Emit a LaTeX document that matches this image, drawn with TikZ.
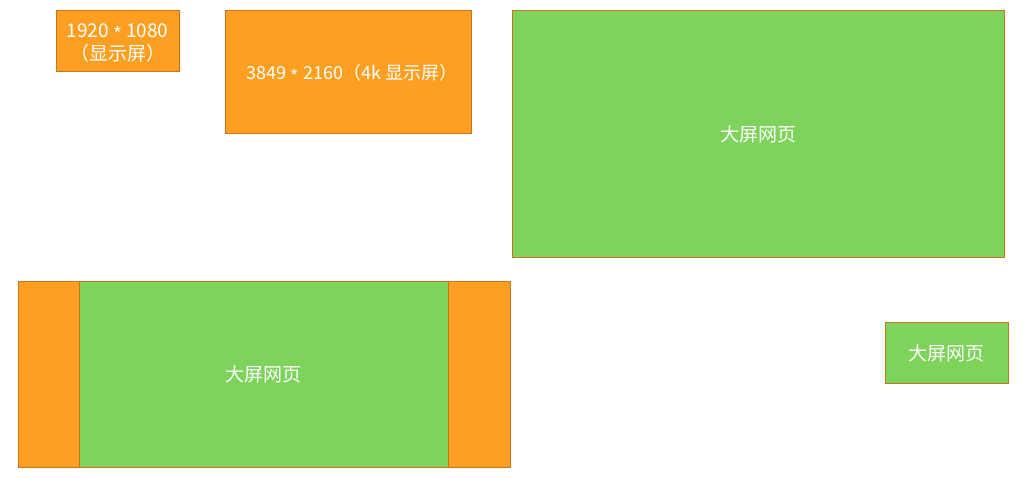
\documentclass[tikz,border=0pt]{standalone}
\usepackage{fontspec}
\setmainfont{Noto Sans CJK SC}
\usetikzlibrary{positioning}
\definecolor{ScreenOrange}{HTML}{FF9F22}
\definecolor{PageGreen}{HTML}{7ED35A}
\definecolor{EdgeBrown}{HTML}{C8741A}
\newcommand{\resby}{\raisebox{-0.35ex}{*}}

\begin{document}
\begin{tikzpicture}[x=1pt, y=-1pt,
    every node/.style={font=\fontsize{19}{23}\selectfont, text=white, align=center, inner sep=0pt},
    screen/.style={draw=EdgeBrown, fill=ScreenOrange, line width=1pt},
    webpage/.style={draw=EdgeBrown, fill=PageGreen, line width=1pt}]
    \useasboundingbox (0,0) rectangle (1026,478);

    % top row: screens and full page
    \node[screen, minimum width=123pt, minimum height=61pt] (hd) at (117.5,41.5) {};
    \node (hdtext) at (117.5,43.5) {1920 \resby{} 1080\\（显示屏）};
    \node[screen, minimum width=246pt, minimum height=123pt] (uhd) at (348,72.5) {};
    \node[font=\fontsize{18}{22}\selectfont] (uhdtext) at (352,74) {3849 \resby{} 2160（4k 显示屏）};
    \node[webpage, minimum width=492pt, minimum height=247pt] (bigpage) at (758,134.5) {大屏网页};

    % bottom row: page centred on a wide screen, small page
    \node[screen, minimum width=492pt, minimum height=185pt] (wide) at (264,374.5) {};
    \node[webpage, minimum width=369pt, minimum height=185pt] (midpage) at (263.5,374.5) {大屏网页};
    \node[webpage, minimum width=123pt, minimum height=61pt] (smallpage) at (946.5,353.5) {大屏网页};
\end{tikzpicture}
\end{document}
